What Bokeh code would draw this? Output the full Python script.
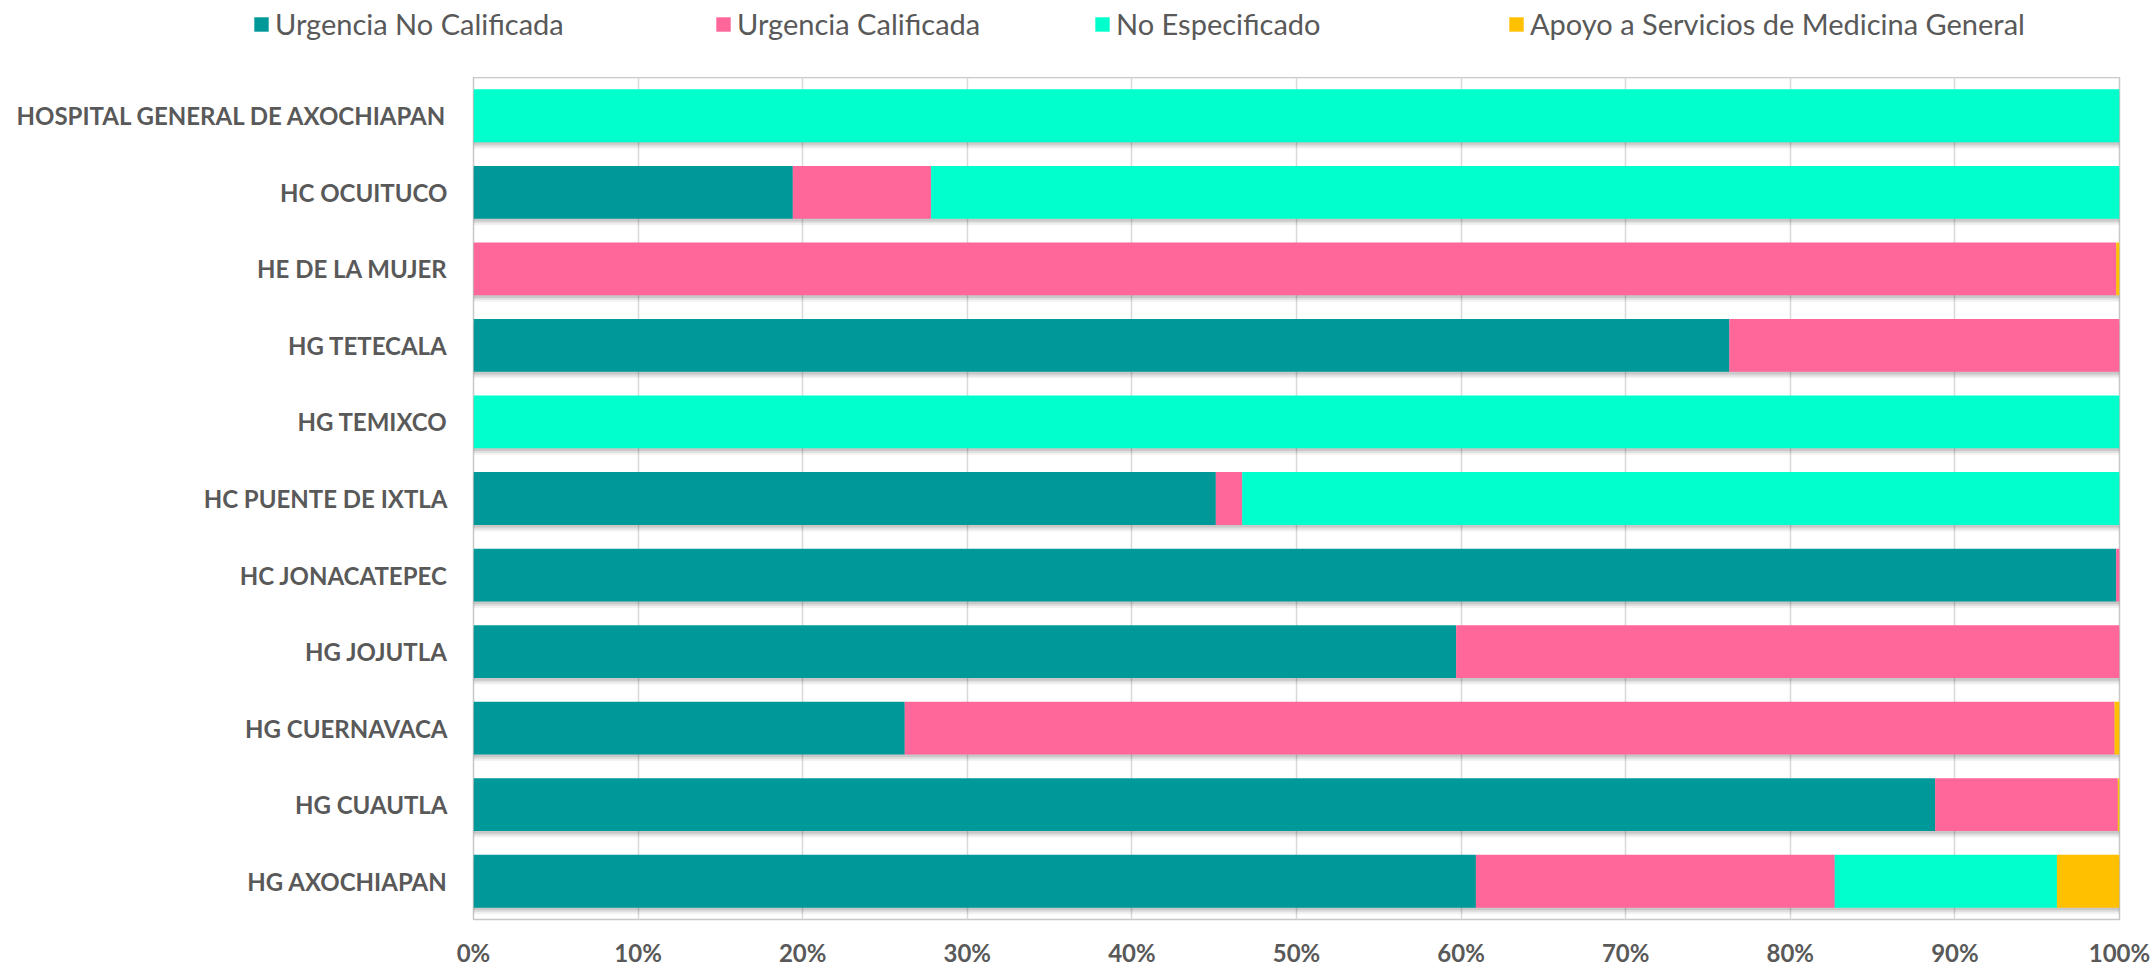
from bokeh.plotting import figure
from bokeh.layouts import column
from bokeh.models import (FactorRange, Range1d, FixedTicker, PrintfTickFormatter, ColumnDataSource,
                          Legend, LegendItem)
from bokeh.transform import dodge
from bokeh.embed import file_html
from bokeh.resources import INLINE

hospitals = ["HOSPITAL GENERAL DE AXOCHIAPAN", "HC OCUITUCO", "HE DE LA MUJER", "HG TETECALA",
             "HG TEMIXCO", "HC PUENTE DE IXTLA", "HC JONACATEPEC", "HG JOJUTLA",
             "HG CUERNAVACA", "HG CUAUTLA", "HG AXOCHIAPAN"]
urg_no_calificada = [0, 19.4, 0, 76.3, 0, 45.1, 99.8, 59.7, 26.2, 88.8, 60.9]
urg_calificada = [0, 8.4, 99.8, 23.7, 0, 1.6, 0.2, 40.3, 73.5, 11.1, 21.8]
no_especificado = [100, 72.2, 0, 0, 100, 53.3, 0, 0, 0, 0, 13.5]
apoyo_medicina = [0, 0, 0.2, 0, 0, 0, 0, 0, 0.3, 0.1, 3.8]

series_names = ["Urgencia No Calificada", "Urgencia Calificada", "No Especificado",
                "Apoyo a Servicios de Medicina General"]
series_colors = ["#009999", "#FF6699", "#00FFCC", "#FFC000"]
x_ticks = [0, 10, 20, 30, 40, 50, 60, 70, 80, 90, 100]

W = 2156
LEG_H = 77
legend_x = [252, 714, 1093, 1507]

totals = [a + b + c + d for a, b, c, d in zip(urg_no_calificada, urg_calificada, no_especificado, apoyo_medicina)]
source = ColumnDataSource(dict(cat=hospitals, unc=urg_no_calificada, uc=urg_calificada,
                               ne=no_especificado, ap=apoyo_medicina, total=totals,
                               zero=[0] * len(hospitals)))

# ---- legend strip ----
lf = figure(width=W, height=LEG_H, output_backend="svg", toolbar_location=None,
            x_range=Range1d(0, W), y_range=Range1d(0, LEG_H), min_border=0,
            x_axis_type=None, y_axis_type=None)
lf.frame_align = False
lf.outline_line_color = None
lf.background_fill_color = "white"
lf.border_fill_color = "white"
key_src = ColumnDataSource(dict(x=[0], y=[0]))
for name, col, lx in zip(series_names, series_colors, legend_x):
    r = lf.rect(x="x", y="y", width=0, height=0, source=key_src,
                fill_color=col, line_color=None)
    lg = Legend(items=[LegendItem(label=name, renderers=[r])], location=(lx, 36),
                orientation="horizontal", background_fill_alpha=0, border_line_color=None,
                padding=0, margin=0, glyph_width=18, glyph_height=18, label_standoff=5,
                label_text_font="Lato", label_text_font_size="29px", label_text_color="#595959")
    lf.add_layout(lg, "center")

# ---- main chart ----
p = figure(width=W, height=970 - LEG_H, output_backend="svg", toolbar_location=None,
           y_range=FactorRange(factors=list(reversed(hospitals))),
           x_range=Range1d(0, 100),
           min_border_left=473, min_border_right=37, min_border_top=0, min_border_bottom=51)
p.frame_align = False
p.background_fill_color = "white"
p.border_fill_color = "white"
p.outline_line_color = "#c8c8c8"
p.outline_line_width = 1.5

# soft shadow under bars
for off, a in [(-0.035, 0.10), (-0.06, 0.07), (-0.085, 0.05)]:
    p.hbar(y=dodge("cat", off, range=p.y_range), left="zero", right="total", height=0.69,
           source=source, fill_color="black", fill_alpha=a, line_color=None)

p.hbar_stack(["unc", "uc", "ne", "ap"], y="cat", height=0.69, source=source,
             fill_color=series_colors, line_color=None)

p.xaxis.ticker = FixedTicker(ticks=x_ticks)
p.xaxis.formatter = PrintfTickFormatter(format="%d%%")
p.xgrid.ticker = FixedTicker(ticks=x_ticks)
p.xgrid.grid_line_color = "#d9d9d9"
p.xgrid.grid_line_width = 1.5
p.ygrid.grid_line_color = None

for ax in (p.xaxis, p.yaxis):
    ax.axis_line_color = None
    ax.major_tick_line_color = None
    ax.minor_tick_line_color = None
    ax.major_tick_in = 0
    ax.major_tick_out = 0
    ax.minor_tick_in = 0
    ax.minor_tick_out = 0
    ax.major_label_text_font = "Lato"
    ax.major_label_text_font_style = "bold"
    ax.major_label_text_font_size = "24px"
    ax.major_label_text_color = "#595959"
p.xaxis.major_label_standoff = 18
p.yaxis.major_label_standoff = 26

layout = column(lf, p, spacing=0)
open("out.html", "w").write(file_html(layout, INLINE))
